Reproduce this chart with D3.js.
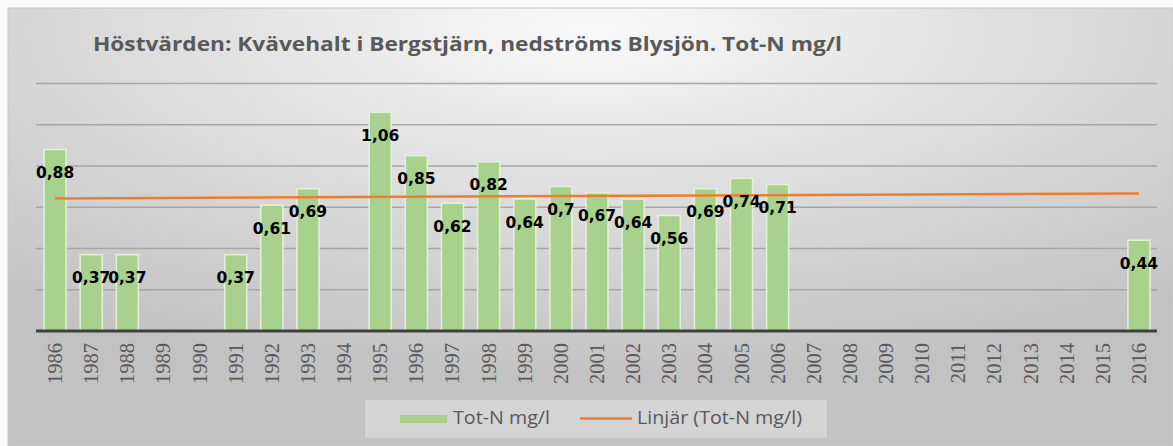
<!DOCTYPE html>
<html>
<head>
<meta charset="utf-8">
<script src="https://cdn.jsdelivr.net/npm/d3@7"></script>
<style>
  body { margin: 0; background: #fafafa; }
  svg { display: block; }
</style>
</head>
<body>
<script>
// Data
const years = ["1986", "1987", "1988", "1989", "1990", "1991", "1992", "1993", "1994", "1995",
               "1996", "1997", "1998", "1999", "2000", "2001", "2002", "2003", "2004", "2005",
               "2006", "2007", "2008", "2009", "2010", "2011", "2012", "2013", "2014", "2015", "2016"];
const totN = [0.88, 0.37, 0.37, null, null, 0.37, 0.61, 0.69, null, 1.06,
              0.85, 0.62, 0.82, 0.64, 0.70, 0.67, 0.64, 0.56, 0.69, 0.74,
              0.71, null, null, null, null, null, null, null, null, null, 0.44];
const yTicks = [0, 0.2, 0.4, 0.6, 0.8, 1.0, 1.2];
// linear trend line value at first and last category
const trendEnds = [0.643, 0.667];

const title = "Höstvärden: Kvävehalt i Bergstjärn, nedströms Blysjön. Tot-N mg/l";
const legendLabels = ["Tot-N mg/l", "Linjär (Tot-N mg/l)"];

const W = 1173, H = 446;
const margin = { top: 83, right: 16, bottom: 115, left: 37 };

const svg = d3.select("body").append("svg")
    .attr("width", W)
    .attr("height", H);

// background gradient (light at top centre, greyer towards the edges)
const defs = svg.append("defs");
const grad = defs.append("radialGradient")
    .attr("id", "bg")
    .attr("cx", "50%").attr("cy", "5%")
    .attr("r", "80%")
    .attr("fx", "50%").attr("fy", "5%");
grad.append("stop").attr("offset", "0%").attr("stop-color", "#f9f9f9");
grad.append("stop").attr("offset", "50%").attr("stop-color", "#dcdcdc");
grad.append("stop").attr("offset", "100%").attr("stop-color", "#c2c2c2");

svg.append("rect")
    .attr("x", 8).attr("y", 8)
    .attr("width", W - 8).attr("height", H - 8)
    .attr("fill", "url(#bg)")
    .attr("stroke", "#c8c8c8");

const x = d3.scaleBand()
    .domain(years)
    .range([margin.left, 1157])
    .paddingInner(0.39)
    .paddingOuter(0.195);

const y = d3.scaleLinear()
    .domain([0, 1.2])
    .range([331, 83.5]);

// gridlines
svg.append("g")
    .selectAll("line")
    .data(yTicks.slice(1))
    .enter().append("line")
    .attr("x1", 36).attr("x2", 1157)
    .attr("y1", d => y(d)).attr("y2", d => y(d))
    .attr("stroke", "#a6a6a6")
    .attr("stroke-width", 1.5);

// bars
const bars = years.map((yr, i) => ({ year: yr, value: totN[i] })).filter(d => d.value !== null);

svg.append("g")
    .selectAll("rect")
    .data(bars)
    .enter().append("rect")
    .attr("x", d => x(d.year))
    .attr("y", d => y(d.value))
    .attr("width", x.bandwidth())
    .attr("height", d => y(0) - y(d.value))
    .attr("fill", "#a9d18e")
    .attr("stroke", "#e4f1da")
    .attr("stroke-width", 1.5);

// x axis baseline
svg.append("line")
    .attr("x1", 36).attr("x2", 1157)
    .attr("y1", y(0)).attr("y2", y(0))
    .attr("stroke", "#404040")
    .attr("stroke-width", 3);

// x axis labels
const xAxis = svg.append("g")
    .attr("transform", "translate(0," + y(0) + ")")
    .call(d3.axisBottom(x).tickSize(0).tickPadding(0));
xAxis.select(".domain").remove();
xAxis.selectAll("text")
    .attr("transform", "translate(0,12) rotate(-90)")
    .attr("x", 0).attr("y", 0)
    .attr("dy", "0.34em")
    .style("text-anchor", "end")
    .style("font-family", "'Liberation Serif', serif")
    .style("font-size", "20.5px")
    .attr("fill", "#595959");

// trend line
const first = years[0], last = years[years.length - 1];
svg.append("line")
    .attr("x1", x(first) + x.bandwidth() / 2)
    .attr("x2", x(last) + x.bandwidth() / 2)
    .attr("y1", y(trendEnds[0]))
    .attr("y2", y(trendEnds[1]))
    .attr("stroke", "#ed7d31")
    .attr("stroke-width", 2.5);

// data labels
svg.append("g")
    .selectAll("text")
    .data(bars)
    .enter().append("text")
    .attr("x", d => x(d.year) + x.bandwidth() / 2)
    .attr("y", d => y(d.value) + 23)
    .attr("dy", "0.36em")
    .style("text-anchor", "middle")
    .style("font-family", "'DejaVu Sans', sans-serif")
    .style("font-weight", "bold")
    .style("font-size", "15.5px")
    .attr("fill", "#000")
    .text(d => String(d.value).replace(".", ","));

// title
svg.append("text")
    .attr("x", 93)
    .attr("y", 51)
    .attr("textLength", 749)
    .attr("lengthAdjust", "spacingAndGlyphs")
    .style("font-family", "'Open Sans', sans-serif")
    .style("font-weight", "bold")
    .style("font-size", "19px")
    .attr("fill", "#595959")
    .text(title);

// legend
const legend = svg.append("g");
legend.append("rect")
    .attr("x", 365).attr("y", 400)
    .attr("width", 462).attr("height", 38)
    .attr("fill", "#ffffff")
    .attr("fill-opacity", 0.3);

legend.append("rect")
    .attr("x", 400).attr("y", 415)
    .attr("width", 47).attr("height", 8)
    .attr("fill", "#a9d18e");
legend.append("text")
    .attr("x", 453).attr("y", 424)
    .attr("textLength", 97)
    .attr("lengthAdjust", "spacingAndGlyphs")
    .style("font-family", "'Open Sans', sans-serif")
    .style("font-size", "17.5px")
    .attr("fill", "#595959")
    .text(legendLabels[0]);

legend.append("line")
    .attr("x1", 580).attr("x2", 632)
    .attr("y1", 418.5).attr("y2", 418.5)
    .attr("stroke", "#ed7d31")
    .attr("stroke-width", 2.5);
legend.append("text")
    .attr("x", 637).attr("y", 424)
    .attr("textLength", 165)
    .attr("lengthAdjust", "spacingAndGlyphs")
    .style("font-family", "'Open Sans', sans-serif")
    .style("font-size", "17.5px")
    .attr("fill", "#595959")
    .text(legendLabels[1]);
</script>
</body>
</html>
